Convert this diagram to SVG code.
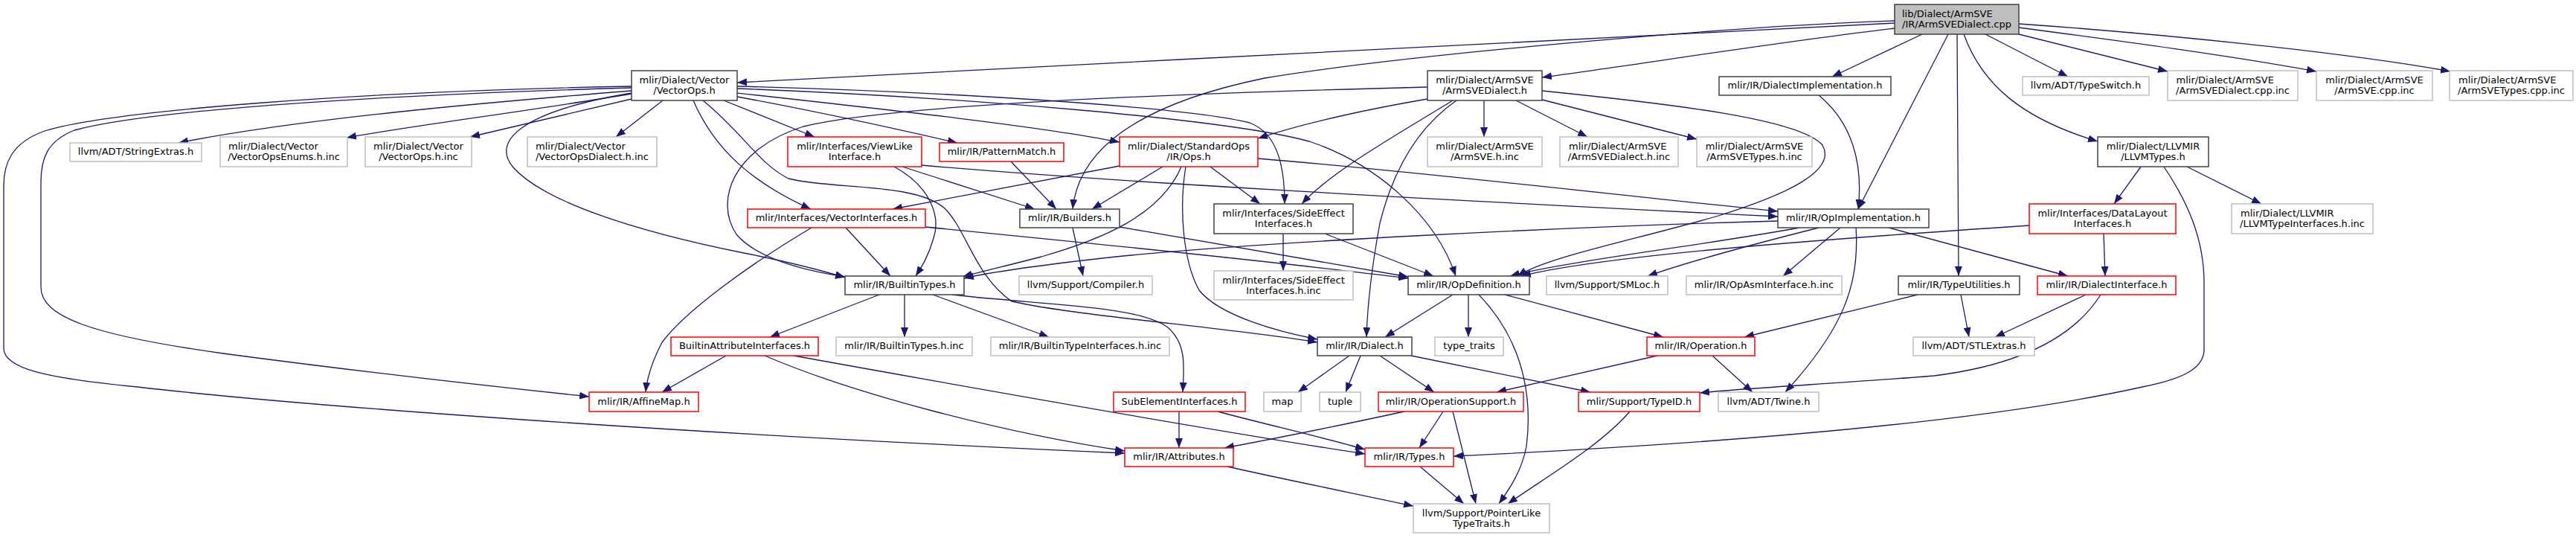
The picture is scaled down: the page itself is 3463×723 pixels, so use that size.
<svg xmlns="http://www.w3.org/2000/svg" width="3463" height="723" viewBox="0 0 3463 723">
<style>
.e{fill:none;stroke:#191970;stroke-width:1.3;marker-end:url(#ah)}
.b rect{fill:#fff;stroke:#404040;stroke-width:1.5}
.g rect{fill:#fff;stroke:#bfbfbf;stroke-width:1.5}
.r rect{fill:#fff;stroke:#ff0000;stroke-width:1.5}
.k rect{fill:#bfbfbf;stroke:#404040;stroke-width:1.5}
text{font-family:'DejaVu Sans',sans-serif;font-size:13px;fill:#000;text-anchor:middle}
text.s{text-anchor:start}
</style>
<defs>
<marker id="ah" viewBox="0 0 13 10" refX="13" refY="5" markerWidth="13" markerHeight="10" markerUnits="userSpaceOnUse" orient="auto"><path d="M0,0 L13,5 L0,10 z" fill="#191970"/></marker>
</defs>
<rect width="3463" height="723" fill="#fff"/>
<g id="edges">
<path class="e" d="M2547,31 C2100,52 1500,85 991,111"/>
<path class="e" d="M2547,28 C2350,34 1900,72 1700,105 C1530,140 1450,200 1442,281"/>
<path class="e" d="M2547,38 C2400,55 2200,87 2073,104"/>
<path class="e" d="M2584,46 L2463,103"/>
<path class="e" d="M2619,46 L2498,281"/>
<path class="e" d="M2631,46 L2633,371"/>
<path class="e" d="M2640,46 C2665,115 2720,160 2820,190"/>
<path class="e" d="M2669,46 L2780,103"/>
<path class="e" d="M2714,46 L2914,96"/>
<path class="e" d="M2714,37 C2850,55 3000,75 3114,96"/>
<path class="e" d="M2714,32 C2900,45 3150,70 3294,96"/>
<path class="e" d="M849,122 C650,138 400,160 240,192"/>
<path class="e" d="M849,126 C720,148 560,168 466,185"/>
<path class="e" d="M849,133 L632,184"/>
<path class="e" d="M891,135 L828,184"/>
<path class="e" d="M849,118 C500,128 200,148 100,175 C62,190 55,215 55,245 L55,386 C55,425 120,450 300,475 C450,495 650,518 792,533"/>
<path class="e" d="M849,116 C500,122 150,148 60,176 C15,192 5,220 5,250 L5,468 C5,495 60,508 185,520 C400,545 900,582 1512,609"/>
<path class="e" d="M945,135 C1000,180 1020,220 1060,240 C1120,255 1230,245 1270,280 C1300,310 1310,370 1360,405 C1450,425 1650,440 1771,460"/>
<path class="e" d="M849,125 C700,150 660,190 690,225 C730,270 850,310 1000,340 C1060,352 1100,362 1136,373"/>
<path class="e" d="M973,135 L1095,184"/>
<path class="e" d="M991,130 C1100,150 1200,172 1287,192"/>
<path class="e" d="M991,125 C1200,148 1400,170 1505,191"/>
<path class="e" d="M932,135 C960,200 1010,245 1090,281"/>
<path class="e" d="M991,116 C1300,124 1600,145 1680,165 C1720,180 1727,230 1727,274"/>
<path class="e" d="M991,119 C1300,131 1650,160 1760,190 C1850,220 1930,290 1957,371"/>
<path class="e" d="M1919,117 C1600,125 1200,140 1080,170 C985,200 960,270 990,315 C1020,350 1090,365 1136,372"/>
<path class="e" d="M1919,133 C1820,150 1740,170 1691,186"/>
<path class="e" d="M1953,135 C1880,180 1790,230 1750,274"/>
<path class="e" d="M1958,135 C1900,175 1870,240 1855,300 C1842,370 1838,420 1837,453"/>
<path class="e" d="M1995,135 L1995,184"/>
<path class="e" d="M2038,135 L2134,184"/>
<path class="e" d="M2073,134 L2281,187"/>
<path class="e" d="M2073,122 C2250,140 2420,160 2450,195 C2470,230 2400,262 2310,290 C2200,322 2080,345 2040,371"/>
<path class="e" d="M2445,128 C2490,165 2505,220 2498,281"/>
<path class="e" d="M1505,223 L1200,281"/>
<path class="e" d="M1563,224 L1468,281"/>
<path class="e" d="M1627,224 L1694,274"/>
<path class="e" d="M1594,224 C1585,280 1590,350 1612,390 C1640,425 1720,446 1771,456"/>
<path class="e" d="M1588,224 C1560,290 1480,322 1400,345 C1350,358 1315,366 1294,372"/>
<path class="e" d="M1691,213 C1900,230 2200,265 2390,284"/>
<path class="e" d="M1213,224 L1391,281"/>
<path class="e" d="M1202,224 C1250,250 1265,290 1255,320 C1248,345 1238,360 1231,371"/>
<path class="e" d="M1239,222 C1500,245 2000,272 2390,291"/>
<path class="e" d="M1359,217 L1420,281"/>
<path class="e" d="M1091,306 C1000,360 920,420 890,460 C877,485 870,505 868,527"/>
<path class="e" d="M1137,306 L1197,371"/>
<path class="e" d="M1244,305 C1500,330 1750,356 1893,374"/>
<path class="e" d="M1442,306 L1456,371"/>
<path class="e" d="M1505,305 C1650,330 1800,355 1893,372"/>
<path class="e" d="M1725,314 L1725,364"/>
<path class="e" d="M1781,314 L1927,371"/>
<path class="e" d="M2390,297 C2100,305 1700,325 1500,345 C1400,356 1330,366 1296,374"/>
<path class="e" d="M2445,306 C2350,330 2260,355 2215,371"/>
<path class="e" d="M2419,306 C2300,328 2100,352 2030,371"/>
<path class="e" d="M2474,306 L2397,371"/>
<path class="e" d="M2495,306 C2500,380 2480,440 2400,527"/>
<path class="e" d="M2539,306 L2780,371"/>
<path class="e" d="M2728,303 C2400,325 2150,345 2045,371"/>
<path class="e" d="M2828,314 L2830,371"/>
<path class="e" d="M2878,224 L2842,274"/>
<path class="e" d="M2940,224 L3040,274"/>
<path class="e" d="M2909,224 C2940,270 2963,320 2963,380 L2963,470 C2963,500 2920,512 2880,520 C2700,560 2400,592 1954,613"/>
<path class="e" d="M2578,396 L2345,453"/>
<path class="e" d="M2636,396 L2647,453"/>
<path class="e" d="M2804,396 L2682,453"/>
<path class="e" d="M2824,396 C2790,450 2720,490 2600,505 C2480,515 2350,521 2285,528"/>
<path class="e" d="M2228,478 L2012,527"/>
<path class="e" d="M2302,478 L2356,527"/>
<path class="e" d="M1953,396 L1862,453"/>
<path class="e" d="M1974,396 L1974,453"/>
<path class="e" d="M1988,396 C2040,450 2062,520 2052,600 C2046,632 2030,656 2015,677"/>
<path class="e" d="M2023,396 L2236,453"/>
<path class="e" d="M1814,478 L1745,527"/>
<path class="e" d="M1829,478 L1809,527"/>
<path class="e" d="M1855,478 L1928,527"/>
<path class="e" d="M1897,478 L2138,527"/>
<path class="e" d="M1888,553 C1800,572 1700,592 1646,602"/>
<path class="e" d="M1940,553 L1908,602"/>
<path class="e" d="M1953,553 L1984,677"/>
<path class="e" d="M2191,553 C2150,600 2080,640 2027,677"/>
<path class="e" d="M1909,627 L1968,677"/>
<path class="e" d="M1650,627 C1730,645 1820,663 1900,680"/>
<path class="e" d="M1585,553 L1585,602"/>
<path class="e" d="M1637,553 C1700,570 1780,588 1835,604"/>
<path class="e" d="M976,478 L890,527"/>
<path class="e" d="M1028,478 C1150,530 1350,582 1512,606"/>
<path class="e" d="M1067,478 C1300,520 1650,582 1835,610"/>
<path class="e" d="M1182,396 L1035,453"/>
<path class="e" d="M1216,396 L1216,453"/>
<path class="e" d="M1254,396 L1410,453"/>
<path class="e" d="M1280,396 C1400,410 1530,410 1570,440 C1595,462 1592,492 1590,527"/>
</g>
<g id="n_root" class="k"><rect x="2547" y="6" width="167" height="40"/><text class="s" x="2557" y="22.5">lib/Dialect/ArmSVE</text><text x="2630.5" y="37">/IR/ArmSVEDialect.cpp</text></g>
<g id="n_vectorops" class="b"><rect x="849" y="95" width="142" height="40"/><text x="920" y="111.5">mlir/Dialect/Vector</text><text x="920" y="126">/VectorOps.h</text></g>
<g id="n_armsvedialect_h" class="b"><rect x="1919" y="95" width="154" height="40"/><text x="1996" y="111.5">mlir/Dialect/ArmSVE</text><text x="1996" y="126">/ArmSVEDialect.h</text></g>
<g id="n_dialectimpl" class="b"><rect x="2311" y="103" width="231" height="25"/><text x="2426.5" y="119">mlir/IR/DialectImplementation.h</text></g>
<g id="n_typeswitch" class="g"><rect x="2719" y="103" width="170" height="25"/><text x="2804" y="119">llvm/ADT/TypeSwitch.h</text></g>
<g id="n_dialectcppinc" class="g"><rect x="2914" y="95" width="175" height="40"/><text class="s" x="2925.5" y="111.5">mlir/Dialect/ArmSVE</text><text x="3001.5" y="126">/ArmSVEDialect.cpp.inc</text></g>
<g id="n_armsvecppinc" class="g"><rect x="3114" y="95" width="156" height="40"/><text x="3192" y="111.5">mlir/Dialect/ArmSVE</text><text x="3192" y="126">/ArmSVE.cpp.inc</text></g>
<g id="n_typescppinc" class="g"><rect x="3293" y="95" width="166" height="40"/><text class="s" x="3305" y="111.5">mlir/Dialect/ArmSVE</text><text x="3376" y="126">/ArmSVETypes.cpp.inc</text></g>
<g id="n_stringextras" class="g"><rect x="94" y="192" width="177" height="25"/><text x="182.5" y="208">llvm/ADT/StringExtras.h</text></g>
<g id="n_enums" class="g"><rect x="296" y="184" width="171" height="40"/><text class="s" x="307" y="200.5">mlir/Dialect/Vector</text><text x="381.5" y="215">/VectorOpsEnums.h.inc</text></g>
<g id="n_vectoropsinc" class="g"><rect x="491" y="184" width="143" height="40"/><text x="562.5" y="200.5">mlir/Dialect/Vector</text><text x="562.5" y="215">/VectorOps.h.inc</text></g>
<g id="n_vectordialectinc" class="g"><rect x="709" y="184" width="174" height="40"/><text class="s" x="720" y="200.5">mlir/Dialect/Vector</text><text x="796" y="215">/VectorOpsDialect.h.inc</text></g>
<g id="n_viewlike" class="r"><rect x="1059" y="184" width="180" height="40"/><text x="1149" y="200.5">mlir/Interfaces/ViewLike</text><text x="1149" y="215">Interface.h</text></g>
<g id="n_patternmatch" class="r"><rect x="1263" y="192" width="167" height="25"/><text x="1346.5" y="208">mlir/IR/PatternMatch.h</text></g>
<g id="n_stdops" class="r"><rect x="1505" y="184" width="186" height="40"/><text x="1598" y="200.5">mlir/Dialect/StandardOps</text><text x="1598" y="215">/IR/Ops.h</text></g>
<g id="n_armsvehinc" class="g"><rect x="1919" y="184" width="154" height="40"/><text x="1996" y="200.5">mlir/Dialect/ArmSVE</text><text x="1996" y="215">/ArmSVE.h.inc</text></g>
<g id="n_armsvedialecthinc" class="g"><rect x="2097" y="184" width="159" height="40"/><text class="s" x="2109" y="200.5">mlir/Dialect/ArmSVE</text><text x="2176.5" y="215">/ArmSVEDialect.h.inc</text></g>
<g id="n_armsvetypeshinc" class="g"><rect x="2281" y="184" width="155" height="40"/><text x="2358.5" y="200.5">mlir/Dialect/ArmSVE</text><text x="2358.5" y="215">/ArmSVETypes.h.inc</text></g>
<g id="n_llvmtypes" class="b"><rect x="2820" y="184" width="149" height="40"/><text x="2894.5" y="200.5">mlir/Dialect/LLVMIR</text><text x="2894.5" y="215">/LLVMTypes.h</text></g>
<g id="n_vectorinterfaces" class="r"><rect x="1005" y="281" width="239" height="25"/><text x="1124.5" y="297">mlir/Interfaces/VectorInterfaces.h</text></g>
<g id="n_builders" class="b"><rect x="1371" y="281" width="134" height="25"/><text x="1438" y="297">mlir/IR/Builders.h</text></g>
<g id="n_sideeffect" class="b"><rect x="1632" y="274" width="187" height="40"/><text x="1725.5" y="290.5">mlir/Interfaces/SideEffect</text><text x="1725.5" y="305">Interfaces.h</text></g>
<g id="n_opimpl" class="b"><rect x="2390" y="281" width="203" height="25"/><text x="2491.5" y="297">mlir/IR/OpImplementation.h</text></g>
<g id="n_datalayout" class="r"><rect x="2728" y="274" width="197" height="40"/><text x="2826.5" y="290.5">mlir/Interfaces/DataLayout</text><text x="2826.5" y="305">Interfaces.h</text></g>
<g id="n_llvmtypeifinc" class="g"><rect x="3000" y="274" width="190" height="40"/><text class="s" x="3012" y="290.5">mlir/Dialect/LLVMIR</text><text x="3095" y="305">/LLVMTypeInterfaces.h.inc</text></g>
<g id="n_builtintypes" class="b"><rect x="1136" y="371" width="160" height="25"/><text x="1216" y="387">mlir/IR/BuiltinTypes.h</text></g>
<g id="n_compiler" class="g"><rect x="1370" y="371" width="179" height="25"/><text x="1459.5" y="387">llvm/Support/Compiler.h</text></g>
<g id="n_sideeffectinc" class="g"><rect x="1632" y="364" width="187" height="39"/><text x="1725.5" y="380.5">mlir/Interfaces/SideEffect</text><text x="1725.5" y="395">Interfaces.h.inc</text></g>
<g id="n_opdefinition" class="b"><rect x="1893" y="371" width="163" height="25"/><text x="1974.5" y="387">mlir/IR/OpDefinition.h</text></g>
<g id="n_smloc" class="g"><rect x="2079" y="371" width="163" height="25"/><text x="2160.5" y="387">llvm/Support/SMLoc.h</text></g>
<g id="n_opasm" class="g"><rect x="2267" y="371" width="209" height="25"/><text x="2371.5" y="387">mlir/IR/OpAsmInterface.h.inc</text></g>
<g id="n_typeutilities" class="b"><rect x="2552" y="371" width="163" height="25"/><text x="2633.5" y="387">mlir/IR/TypeUtilities.h</text></g>
<g id="n_dialectinterface" class="r"><rect x="2739" y="371" width="186" height="25"/><text x="2832" y="387">mlir/IR/DialectInterface.h</text></g>
<g id="n_builtinattrif" class="r"><rect x="902" y="453" width="198" height="25"/><text x="1001" y="469">BuiltinAttributeInterfaces.h</text></g>
<g id="n_builtintypesinc" class="g"><rect x="1124" y="453" width="183" height="25"/><text x="1215.5" y="469">mlir/IR/BuiltinTypes.h.inc</text></g>
<g id="n_builtintypeifinc" class="g"><rect x="1332" y="453" width="240" height="25"/><text x="1452" y="469">mlir/IR/BuiltinTypeInterfaces.h.inc</text></g>
<g id="n_dialect" class="b"><rect x="1771" y="453" width="127" height="25"/><text x="1834.5" y="469">mlir/IR/Dialect.h</text></g>
<g id="n_typetraits" class="g"><rect x="1929" y="453" width="92" height="25"/><text x="1975" y="469">type_traits</text></g>
<g id="n_operation" class="r"><rect x="2214" y="453" width="145" height="25"/><text x="2286.5" y="469">mlir/IR/Operation.h</text></g>
<g id="n_stlextras" class="g"><rect x="2572" y="453" width="163" height="25"/><text x="2653.5" y="469">llvm/ADT/STLExtras.h</text></g>
<g id="n_affinemap" class="r"><rect x="792" y="527" width="147" height="26"/><text x="865.5" y="543.5">mlir/IR/AffineMap.h</text></g>
<g id="n_subelement" class="r"><rect x="1497" y="527" width="177" height="26"/><text x="1585.5" y="543.5">SubElementInterfaces.h</text></g>
<g id="n_map" class="g"><rect x="1699" y="527" width="50" height="26"/><text x="1724" y="543.5">map</text></g>
<g id="n_tuple" class="g"><rect x="1774" y="527" width="55" height="26"/><text x="1801.5" y="543.5">tuple</text></g>
<g id="n_opsupport" class="r"><rect x="1853" y="527" width="195" height="26"/><text x="1950.5" y="543.5">mlir/IR/OperationSupport.h</text></g>
<g id="n_typeid" class="r"><rect x="2122" y="527" width="163" height="26"/><text x="2203.5" y="543.5">mlir/Support/TypeID.h</text></g>
<g id="n_twine" class="g"><rect x="2310" y="527" width="135" height="26"/><text x="2377.5" y="543.5">llvm/ADT/Twine.h</text></g>
<g id="n_attributes" class="r"><rect x="1512" y="602" width="146" height="25"/><text x="1585" y="618">mlir/IR/Attributes.h</text></g>
<g id="n_types" class="r"><rect x="1835" y="602" width="119" height="25"/><text x="1894.5" y="618">mlir/IR/Types.h</text></g>
<g id="n_pointerlike" class="g"><rect x="1900" y="677" width="183" height="39"/><text x="1991.5" y="693.5">llvm/Support/PointerLike</text><text x="1991.5" y="708">TypeTraits.h</text></g>
</svg>
